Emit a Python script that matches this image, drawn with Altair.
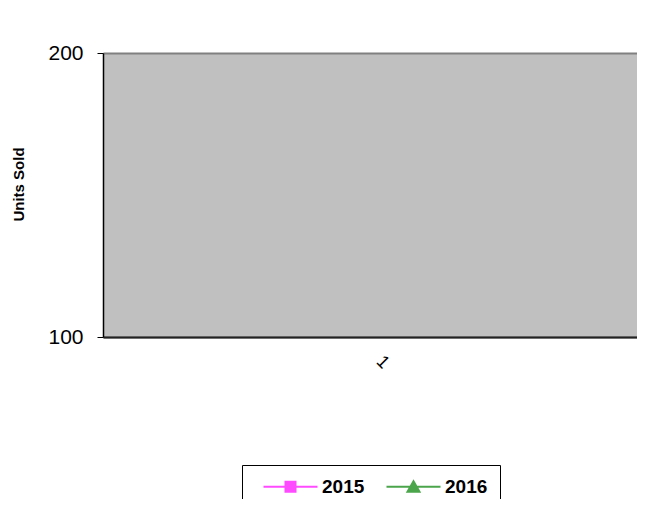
import altair as alt
import pandas as pd

categories = ["1"]
years = ["2015", "2016"]
units_2015 = [40]
units_2016 = [45]
colors = ["#FF00FF", "#008000"]

rows = []
for c, v in zip(categories, units_2015):
    rows.append({"Month": c, "Year": "2015", "Units": v})
for c, v in zip(categories, units_2016):
    rows.append({"Month": c, "Year": "2016", "Units": v})
df = pd.DataFrame(rows)

sq_path = "M-5.4,0H5.4M-1,-1H1V1H-1Z"
tri_path = "M-5.4,0H5.4M0,-1.1L1.2,1H-1.2Z"

FONT = "Liberation Sans"

legend = alt.Legend(
    title=None, orient="none", legendX=139, legendY=412, direction="horizontal",
    strokeColor="black", fillColor="white", padding=12,
    labelFont=FONT, labelFontSize=19, labelFontWeight="bold", labelColor="black",
    symbolSize=100, symbolStrokeWidth=2, symbolOffset=27, labelOffset=22,
    columnPadding=12,
)

chart = alt.Chart(df).mark_point(clip=True, filled=True, size=100, strokeWidth=2).encode(
    x=alt.X("Month:N", sort=categories, scale=alt.Scale(domain=categories),
            axis=alt.Axis(title=None, labelAngle=45, labelFont=FONT, labelFontSize=18,
                          labelColor="black", ticks=False, domainColor="#222222",
                          domainWidth=2, labelPadding=15, labelOffset=15)),
    y=alt.Y("Units:Q", scale=alt.Scale(domain=[100, 200], nice=False, zero=False),
            axis=alt.Axis(values=[100, 200], title="Units Sold", titleFont=FONT,
                          titleFontSize=15, titleFontWeight="bold", titleColor="black",
                          titleX=-77, titleY=131,
                          labelFont=FONT, labelFontSize=21, labelColor="black",
                          labelPadding=14, tickSize=6, tickColor="black",
                          domainColor="black", domainWidth=1.5,
                          grid=True, gridColor="#808080", gridWidth=2)),
    color=alt.Color("Year:N", scale=alt.Scale(domain=years, range=colors), legend=legend),
    stroke=alt.Stroke("Year:N", scale=alt.Scale(domain=years, range=colors), legend=legend),
    shape=alt.Shape("Year:N", scale=alt.Scale(domain=years, range=[sq_path, tri_path]), legend=legend),
).properties(
    width=534, height=284,
    autosize=alt.AutoSizeParams(type="none"),
    padding={"left": 95, "top": 45, "right": 0, "bottom": 162},
).configure_view(fill="#C0C0C0", strokeWidth=0)

chart.save("out.html", embed_options={"renderer": "svg", "actions": False})
